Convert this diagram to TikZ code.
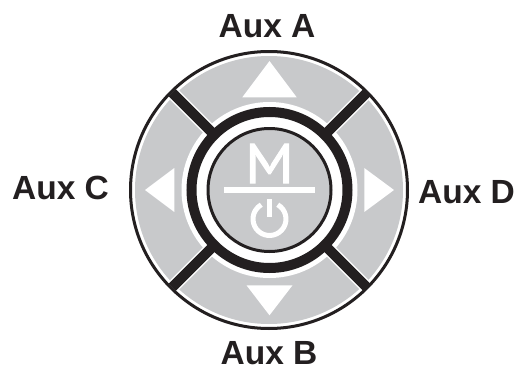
\documentclass[tikz,border=0pt]{standalone}
\usepackage{fontspec}
\setmainfont{Liberation Sans}
\newfontfamily\keyfont[FakeBold=1.6]{PT Sans}
\definecolor{padgray}{HTML}{C8C9CB}
\definecolor{padblack}{HTML}{231F20}
\usetikzlibrary{positioning}
\begin{document}
\begin{tikzpicture}[x=1pt, y=-1pt,
        auxlabel/.style={font=\fontsize{33.5}{33.5}\selectfont\bfseries, text=padblack, inner sep=0pt, anchor=base},
        dirarrow/.style={fill=white, draw=none},
        divider/.style={draw=padblack, line width=10pt}
    ]
        \useasboundingbox (0,0) rectangle (515,367);
        \begin{scope}[shift={(269.5,190)}]
            % outer rim and pad
            \draw[padblack, line width=3pt, fill=white] (-0.5,0) circle (138.5);
            \fill[padgray] (-0.5,0) circle (134);
            % dividers between the four keys
            \foreach \ang in {45,135,225,315} {
                \draw[white, line width=13pt] (\ang:80) -- (\ang:134);
            }
            \fill[white] (0,0) circle (88);
            \foreach \ang in {45,135,225,315} {
                \draw[divider] (\ang:78) -- (\ang:137.5);
            }
            % centre key rings
            \draw[padblack, line width=10pt] (0,0) circle (78);
            \draw[padblack, line width=3pt, fill=padgray] (0,0) circle (61.5);
            % key arrows
            \fill[dirarrow] (0,-129) -- (27.2,-92.7) -- (-27.2,-92.7) -- cycle;
            \fill[dirarrow] (0,125.3) -- (23,95.3) -- (-23,95.3) -- cycle;
            \fill[dirarrow] (-124.5,0) -- (-95.2,22) -- (-95.2,-22) -- cycle;
            \fill[dirarrow] (124.5,0) -- (94.8,22) -- (94.8,-22) -- cycle;
            % centre key symbols
            \node[font=\keyfont\fontsize{56}{56}\selectfont, text=white, inner sep=0pt, transform shape, xscale=1.1] (modekey) at (0,-26.5) {M};
            \fill[white] (-45.5,-3) rectangle (45.5,3);
            \draw[white, line width=5pt] ([shift={(0,29)}]-60:16.5) arc[start angle=-60, end angle=240, radius=16.5];
            \fill[white] (-2.5,9) rectangle (2.5,27);
        \end{scope}
        \node[auxlabel] (auxa) at (267,37.7) {Aux A};
        \node[auxlabel] (auxb) at (269,364) {Aux B};
        \node[auxlabel] (auxc) at (60.5,199.3) {Aux C};
        \node[auxlabel] (auxd) at (466.5,203) {Aux D};
    \end{tikzpicture}
\end{document}
